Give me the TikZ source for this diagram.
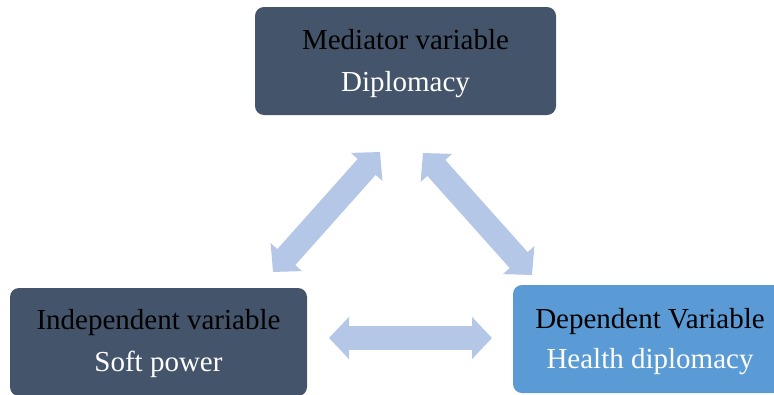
\documentclass[tikz,border=0pt]{standalone}
\usepackage{fontspec}
\setmainfont{Liberation Serif}
\usetikzlibrary{arrows.meta,positioning}

\definecolor{slate}{HTML}{44546A}
\definecolor{skyblue}{HTML}{5B9BD5}
\definecolor{arrowblue}{HTML}{B4C7E7}

\begin{document}
\begin{tikzpicture}
                [x=1pt,y=-1pt,
                 varbox/.style={rounded corners=9pt,inner sep=0pt,align=center,
                   font=\fontsize{29}{42}\selectfont},
                 biarrow/.style={line width=24pt,draw=arrowblue,
                   {Triangle[length=20pt,width=41pt]}-{Triangle[length=20pt,width=41pt]}}]

                \useasboundingbox (0,0) rectangle (774,394);

                \begin{scope}
                \clip (0,0) rectangle (774,394);
                \node[varbox,fill=slate,minimum width=301pt,minimum height=108pt] (mediator) at (405.5,61)
                    {\rule{0pt}{25pt}Mediator variable\\\textcolor{white}{Diplomacy}};
                \node[varbox,fill=slate,minimum width=297pt,minimum height=108pt] (independent) at (158.5,342)
                    {\rule{0pt}{24pt}Independent variable\\\textcolor{white}{Soft power}};
                \node[varbox,fill=skyblue,minimum width=274pt,minimum height=108pt] (dependent) at (650,339)
                    {\rule{0pt}{25pt}Dependent Variable\\[-2pt]\textcolor{white}{Health diplomacy}};
                \end{scope}

                % arrow ends
                \coordinate (medLeft) at (380,152);
                \coordinate (medRight) at (423,153);
                \coordinate (indTop) at (273,272);
                \coordinate (indRight) at (329,338);
                \coordinate (depTop) at (532,275);
                \coordinate (depLeft) at (492,338);

                \draw[biarrow] (indTop) -- (medLeft);
                \draw[biarrow] (medRight) -- (depTop);
                \draw[biarrow] (indRight) -- (depLeft);

            \end{tikzpicture}
\end{document}
